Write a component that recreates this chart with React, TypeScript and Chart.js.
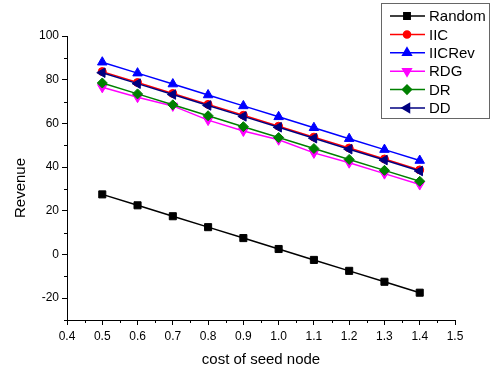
import React, { useEffect, useRef } from "react";
import { Chart, registerables } from "chart.js";
import { drawPoint } from "chart.js/helpers";

Chart.register(...registerables);

const costs = [0.5, 0.6, 0.7, 0.8, 0.9, 1.0, 1.1, 1.2, 1.3, 1.4];
const randomVals = [27.5, 22.5, 17.5, 12.5, 7.5, 2.5, -2.5, -7.5, -12.5, -17.5];
const iicVals = [83.7, 78.7, 73.7, 68.7, 63.7, 58.7, 53.7, 48.7, 43.7, 38.7];
const iicRevVals = [88, 83, 78, 73, 68, 63, 58, 53, 48, 43];
const rdgVals = [76.5, 72, 68, 61.5, 56.5, 52.5, 46.5, 42, 37, 32];
const drVals = [78.5, 73.5, 68.5, 63.5, 58.5, 53.5, 48.5, 43.5, 38.5, 33.5];
const ddVals = [83.2, 78.2, 73.2, 68.2, 63.2, 58.2, 53.2, 48.2, 43.2, 38.2];

const xMajorTicks = [0.4, 0.5, 0.6, 0.7, 0.8, 0.9, 1.0, 1.1, 1.2, 1.3, 1.4, 1.5];
const xMinorTicks = [0.45, 0.55, 0.65, 0.75, 0.85, 0.95, 1.05, 1.15, 1.25, 1.35, 1.45];
const yMajorTicks = [-20, 0, 20, 40, 60, 80, 100];
const yMinorTicks = [-30, -10, 10, 30, 50, 70, 90];

const seriesNames = ["Random", "IIC", "IICRev", "RDG", "DR", "DD"];
const seriesValues = [randomVals, iicVals, iicRevVals, rdgVals, drVals, ddVals];
const seriesColors = ["#000000", "#ff0000", "#0000ff", "#ff00ff", "#008000", "#000080"];
const seriesStyles = ["rect", "circle", "triangle", "triangle", "rectRot", "triangle"];
const seriesRotations = [0, 0, 0, 180, 0, -90];
const seriesRadius = [5, 4, 5.5, 5.5, 5, 5.5];
const seriesOrder = [5, 4, 3, 2, 1, 0];

const yTitle = "Revenue";
const FONT = "'Liberation Sans', Arial, sans-serif";

const extrasPlugin = {
  id: "extras",
  afterDraw(chart: any) {
    const ctx = chart.ctx;
    const xs = chart.scales.x;
    const ys = chart.scales.y;
    const area = chart.chartArea;
    ctx.save();
    ctx.strokeStyle = "#000";
    ctx.lineWidth = 1;
    ctx.beginPath();
    xMinorTicks.forEach((v) => {
      const px = Math.round(xs.getPixelForValue(v)) + 0.5;
      ctx.moveTo(px, area.bottom);
      ctx.lineTo(px, area.bottom + 3);
    });
    yMinorTicks.forEach((v) => {
      const py = Math.round(ys.getPixelForValue(v)) + 0.5;
      ctx.moveTo(area.left, py);
      ctx.lineTo(area.left - 3, py);
    });
    ctx.stroke();

    // y-axis title
    ctx.save();
    ctx.translate(20.5, 188);
    ctx.rotate(-Math.PI / 2);
    ctx.font = "15px " + FONT;
    ctx.fillStyle = "#000";
    ctx.textAlign = "center";
    ctx.textBaseline = "middle";
    ctx.fillText(yTitle, 0, 0);
    ctx.restore();

    // legend
    const bx = 381.5, by = 3.5, bw = 108, bh = 115;
    ctx.fillStyle = "#fff";
    ctx.fillRect(bx, by, bw, bh);
    ctx.strokeStyle = "#666";
    ctx.strokeRect(bx, by, bw, bh);
    ctx.font = "15px " + FONT;
    ctx.textBaseline = "middle";
    ctx.textAlign = "left";
    seriesNames.forEach((name, i) => {
      const y = 16 + i * 18.4;
      ctx.strokeStyle = seriesColors[i];
      ctx.lineWidth = 1.5;
      ctx.beginPath();
      ctx.moveTo(390, y);
      ctx.lineTo(425, y);
      ctx.stroke();
      ctx.fillStyle = seriesColors[i];
      drawPoint(ctx, {
        pointStyle: seriesStyles[i],
        rotation: seriesRotations[i],
        radius: seriesRadius[i] - 0.5,
        borderWidth: 1,
      } as any, 407, y);
      ctx.fillStyle = "#000";
      ctx.fillText(name, 429, y + 1);
    });
    ctx.restore();
  },
};

export default function App() {
  const ref = useRef<HTMLCanvasElement | null>(null);
  useEffect(() => {
    if (!ref.current) return;
    const chart = new Chart(ref.current, {
      type: "line",
      data: {
        datasets: seriesNames.map((name, i) => ({
          label: name,
          data: costs.map((c, j) => ({ x: c, y: seriesValues[i][j] })),
          borderColor: seriesColors[i],
          backgroundColor: seriesColors[i],
          borderWidth: 1.5,
          pointStyle: seriesStyles[i] as any,
          rotation: seriesRotations[i],
          pointRadius: seriesRadius[i],
          pointBorderWidth: 1,
          order: seriesOrder[i],
          tension: 0,
        })),
      },
      options: {
        animation: false,
        responsive: false,
        maintainAspectRatio: false,
        layout: { padding: { top: 36, right: 35, left: 0, bottom: 0 } },
        plugins: { legend: { display: false }, tooltip: { enabled: false } },
        scales: {
          x: {
            type: "linear",
            min: 0.4,
            max: 1.5,
            afterBuildTicks: (s: any) => {
              s.ticks = xMajorTicks.map((v) => ({ value: v }));
            },
            afterFit: (s: any) => {
              s.height = 52;
            },
            grid: { drawOnChartArea: false, tickLength: 5, color: "#000", tickColor: "#000" },
            border: { display: true, color: "#000", width: 1 },
            ticks: {
              color: "#000",
              font: { family: FONT, size: 12 },
              padding: 4,
              maxRotation: 0,
              autoSkip: false,
              callback: (v: any) => Number(v).toFixed(1),
            },
            title: {
              display: true,
              text: "cost of seed node",
              color: "#000",
              font: { family: FONT, size: 15 },
              padding: { top: 0, bottom: 3 },
            },
          },
          y: {
            type: "linear",
            min: -30,
            max: 100,
            afterBuildTicks: (s: any) => {
              s.ticks = yMajorTicks.map((v) => ({ value: v }));
            },
            afterFit: (s: any) => {
              s.width = 67;
            },
            grid: { drawOnChartArea: false, tickLength: 5, color: "#000", tickColor: "#000" },
            border: { display: true, color: "#000", width: 1 },
            ticks: {
              color: "#000",
              font: { family: FONT, size: 12 },
              padding: 3,
              autoSkip: false,
              callback: (v: any) => String(v),
            },
            title: { display: false },
          },
        },
      },
      plugins: [extrasPlugin],
    });
    return () => chart.destroy();
  }, []);
  return (
    <div style={{ position: "absolute", left: 0, top: 0, width: 490, height: 372, background: "#fff" }}>
      <canvas ref={ref} width={490} height={372} style={{ width: 490, height: 372, display: "block" }} />
    </div>
  );
}
